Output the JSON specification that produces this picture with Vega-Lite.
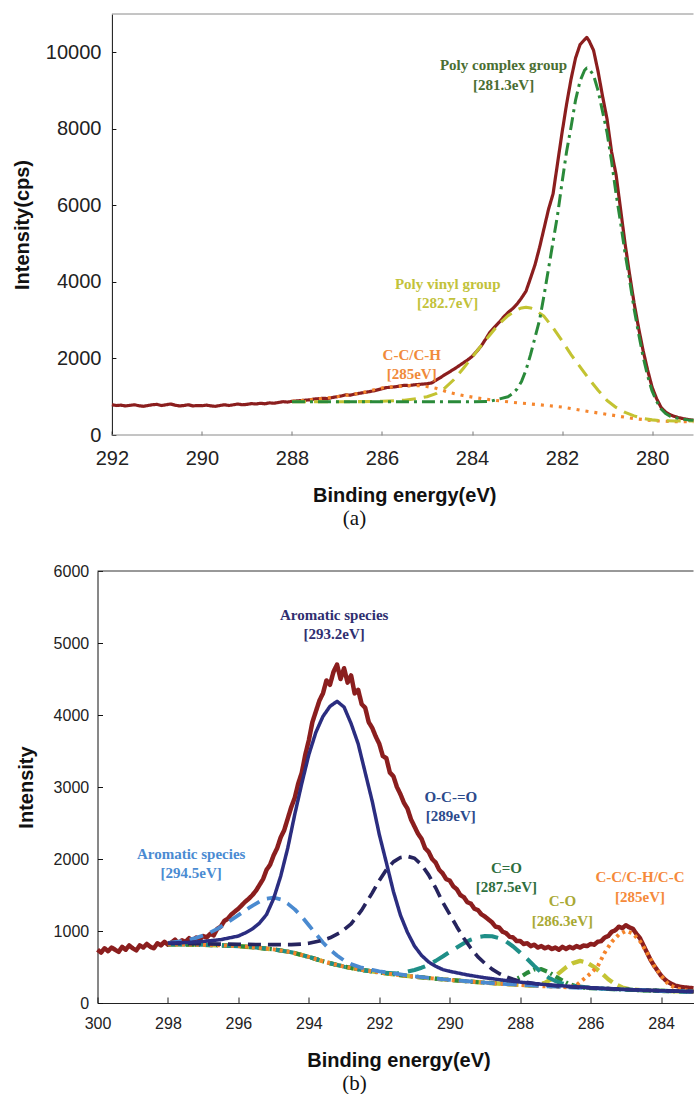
{
"$schema":"https://vega.github.io/schema/vega-lite/v6.json",
"padding":{"left":11.5,"top":13,"right":0,"bottom":0},
"spacing":34,
"resolve":{"scale":{"color":"independent","strokeDash":"independent","strokeWidth":"independent"}},
"config":{"view":{"stroke":null},"font":"Liberation Sans","axis":{"grid":false,"labelFont":"Liberation Sans","titleFont":"Liberation Sans","labelColor":"#222","titleColor":"#111","labelFlush":false,"labelOverlap":false}},
"datasets":{
"aB":[{"x":292,"x2":279.08,"y":0},{"x":292,"x2":279.08,"y":11000}],
"aT":[
{"x":283.3,"y":9658,"t":"Poly complex group","k":"pc"},
{"x":283.3,"y":9156,"t":"[281.3eV]","k":"pc"},
{"x":284.54,"y":3949,"t":"Poly vinyl group","k":"pv"},
{"x":284.54,"y":3455,"t":"[282.7eV]","k":"pv"},
{"x":285.34,"y":2097,"t":"C-C/C-H","k":"ch"},
{"x":285.34,"y":1603,"t":"[285eV]","k":"ch"}],
"aL":[
{"s":"r","x":292.0,"y":790},{"s":"r","x":291.9,"y":770},{"s":"r","x":291.8,"y":780},{"s":"r","x":291.7,"y":760},{"s":"r","x":291.6,"y":775},{"s":"r","x":291.5,"y":790},{"s":"r","x":291.4,"y":765},{"s":"r","x":291.3,"y":750},{"s":"r","x":291.2,"y":770},{"s":"r","x":291.1,"y":790},{"s":"r","x":291.0,"y":800},{"s":"r","x":290.9,"y":770},{"s":"r","x":290.8,"y":790},{"s":"r","x":290.7,"y":810},{"s":"r","x":290.6,"y":780},{"s":"r","x":290.5,"y":760},{"s":"r","x":290.4,"y":770},{"s":"r","x":290.3,"y":790},{"s":"r","x":290.2,"y":760},{"s":"r","x":290.1,"y":770},{"s":"r","x":290.0,"y":765},{"s":"r","x":289.9,"y":780},{"s":"r","x":289.8,"y":760},{"s":"r","x":289.7,"y":750},{"s":"r","x":289.6,"y":770},{"s":"r","x":289.5,"y":790},{"s":"r","x":289.4,"y":770},{"s":"r","x":289.3,"y":790},{"s":"r","x":289.2,"y":810},{"s":"r","x":289.1,"y":790},{"s":"r","x":289.0,"y":800},{"s":"r","x":288.9,"y":820},{"s":"r","x":288.8,"y":810},{"s":"r","x":288.7,"y":830},{"s":"r","x":288.6,"y":815},{"s":"r","x":288.5,"y":840},{"s":"r","x":288.4,"y":830},{"s":"r","x":288.3,"y":850},{"s":"r","x":288.2,"y":870},{"s":"r","x":288.1,"y":860},{"s":"r","x":288.0,"y":880},{"s":"r","x":287.9,"y":890},{"s":"r","x":287.8,"y":900},{"s":"r","x":287.7,"y":910},{"s":"r","x":287.6,"y":920},{"s":"r","x":287.5,"y":940},{"s":"r","x":287.4,"y":950},{"s":"r","x":287.3,"y":960},{"s":"r","x":287.2,"y":950},{"s":"r","x":287.1,"y":980},{"s":"r","x":287.0,"y":1000},{"s":"r","x":286.9,"y":1020},{"s":"r","x":286.8,"y":1050},{"s":"r","x":286.7,"y":1040},{"s":"r","x":286.6,"y":1070},{"s":"r","x":286.5,"y":1090},{"s":"r","x":286.4,"y":1110},{"s":"r","x":286.3,"y":1130},{"s":"r","x":286.2,"y":1150},{"s":"r","x":286.1,"y":1180},{"s":"r","x":286.0,"y":1210},{"s":"r","x":285.9,"y":1240},{"s":"r","x":285.8,"y":1250},{"s":"r","x":285.7,"y":1260},{"s":"r","x":285.6,"y":1280},{"s":"r","x":285.5,"y":1300},{"s":"r","x":285.4,"y":1290},{"s":"r","x":285.3,"y":1310},{"s":"r","x":285.2,"y":1320},{"s":"r","x":285.1,"y":1330},{"s":"r","x":285.0,"y":1340},{"s":"r","x":284.9,"y":1360},{"s":"r","x":284.8,"y":1430},{"s":"r","x":284.7,"y":1500},{"s":"r","x":284.6,"y":1580},{"s":"r","x":284.5,"y":1650},{"s":"r","x":284.4,"y":1720},{"s":"r","x":284.3,"y":1800},{"s":"r","x":284.2,"y":1880},{"s":"r","x":284.1,"y":1960},{"s":"r","x":284.0,"y":2050},{"s":"r","x":283.9,"y":2180},{"s":"r","x":283.8,"y":2320},{"s":"r","x":283.7,"y":2500},{"s":"r","x":283.6,"y":2690},{"s":"r","x":283.5,"y":2820},{"s":"r","x":283.4,"y":2940},{"s":"r","x":283.3,"y":3080},{"s":"r","x":283.2,"y":3200},{"s":"r","x":283.1,"y":3300},{"s":"r","x":283.0,"y":3420},{"s":"r","x":282.9,"y":3580},{"s":"r","x":282.8,"y":3760},{"s":"r","x":282.7,"y":4100},{"s":"r","x":282.6,"y":4450},{"s":"r","x":282.5,"y":4900},{"s":"r","x":282.4,"y":5400},{"s":"r","x":282.3,"y":5900},{"s":"r","x":282.2,"y":6300},{"s":"r","x":282.1,"y":7100},{"s":"r","x":282.0,"y":7900},{"s":"r","x":281.9,"y":8640},{"s":"r","x":281.8,"y":9300},{"s":"r","x":281.7,"y":9850},{"s":"r","x":281.6,"y":10200},{"s":"r","x":281.5,"y":10330},{"s":"r","x":281.45,"y":10390},{"s":"r","x":281.4,"y":10300},{"s":"r","x":281.3,"y":10050},{"s":"r","x":281.2,"y":9500},{"s":"r","x":281.1,"y":8850},{"s":"r","x":281.0,"y":8250},{"s":"r","x":280.9,"y":7400},{"s":"r","x":280.8,"y":6800},{"s":"r","x":280.7,"y":5900},{"s":"r","x":280.6,"y":5000},{"s":"r","x":280.5,"y":4200},{"s":"r","x":280.4,"y":3450},{"s":"r","x":280.3,"y":2800},{"s":"r","x":280.2,"y":2210},{"s":"r","x":280.1,"y":1700},{"s":"r","x":280.0,"y":1250},{"s":"r","x":279.9,"y":950},{"s":"r","x":279.8,"y":720},{"s":"r","x":279.7,"y":600},{"s":"r","x":279.6,"y":530},{"s":"r","x":279.5,"y":485},{"s":"r","x":279.4,"y":450},{"s":"r","x":279.3,"y":425},{"s":"r","x":279.2,"y":405},{"s":"r","x":279.08,"y":385},
{"s":"ch","x":288,"y":880},{"s":"ch","x":287.5,"y":930},{"s":"ch","x":287,"y":1000},{"s":"ch","x":286.5,"y":1090},{"s":"ch","x":286,"y":1230},{"s":"ch","x":285.7,"y":1265},{"s":"ch","x":285.4,"y":1290},{"s":"ch","x":285.1,"y":1290},{"s":"ch","x":284.8,"y":1220},{"s":"ch","x":284.5,"y":1110},{"s":"ch","x":284.2,"y":1030},{"s":"ch","x":283.9,"y":970},{"s":"ch","x":283.6,"y":920},{"s":"ch","x":283.3,"y":880},{"s":"ch","x":283,"y":842},{"s":"ch","x":282.5,"y":790},{"s":"ch","x":282,"y":730},{"s":"ch","x":281.5,"y":630},{"s":"ch","x":281,"y":540},{"s":"ch","x":280.5,"y":445},{"s":"ch","x":280,"y":375},{"s":"ch","x":279.5,"y":350},{"s":"ch","x":279.08,"y":345},
{"s":"pv","x":288,"y":870},{"s":"pv","x":287,"y":870},{"s":"pv","x":286.5,"y":872},{"s":"pv","x":286,"y":880},{"s":"pv","x":285.5,"y":910},{"s":"pv","x":285.2,"y":955},{"s":"pv","x":285,"y":1000},{"s":"pv","x":284.8,"y":1080},{"s":"pv","x":284.6,"y":1230},{"s":"pv","x":284.4,"y":1450},{"s":"pv","x":284.2,"y":1730},{"s":"pv","x":284,"y":2030},{"s":"pv","x":283.8,"y":2330},{"s":"pv","x":283.6,"y":2620},{"s":"pv","x":283.4,"y":2900},{"s":"pv","x":283.2,"y":3120},{"s":"pv","x":283,"y":3270},{"s":"pv","x":282.9,"y":3320},{"s":"pv","x":282.8,"y":3340},{"s":"pv","x":282.7,"y":3320},{"s":"pv","x":282.6,"y":3270},{"s":"pv","x":282.4,"y":3100},{"s":"pv","x":282.2,"y":2800},{"s":"pv","x":282,"y":2460},{"s":"pv","x":281.8,"y":2100},{"s":"pv","x":281.6,"y":1780},{"s":"pv","x":281.4,"y":1460},{"s":"pv","x":281.2,"y":1170},{"s":"pv","x":281,"y":900},{"s":"pv","x":280.8,"y":720},{"s":"pv","x":280.6,"y":590},{"s":"pv","x":280.4,"y":500},{"s":"pv","x":280.2,"y":435},{"s":"pv","x":280,"y":395},{"s":"pv","x":279.8,"y":375},{"s":"pv","x":279.5,"y":368},{"s":"pv","x":279.08,"y":365},
{"s":"pc","x":288,"y":870},{"s":"pc","x":287,"y":870},{"s":"pc","x":286,"y":870},{"s":"pc","x":285,"y":870},{"s":"pc","x":284,"y":870},{"s":"pc","x":283.6,"y":880},{"s":"pc","x":283.4,"y":940},{"s":"pc","x":283.2,"y":1000},{"s":"pc","x":283.1,"y":1080},{"s":"pc","x":283,"y":1200},{"s":"pc","x":282.9,"y":1400},{"s":"pc","x":282.8,"y":1700},{"s":"pc","x":282.7,"y":2100},{"s":"pc","x":282.6,"y":2550},{"s":"pc","x":282.5,"y":3000},{"s":"pc","x":282.4,"y":3650},{"s":"pc","x":282.3,"y":4350},{"s":"pc","x":282.2,"y":5050},{"s":"pc","x":282.1,"y":5750},{"s":"pc","x":282,"y":6600},{"s":"pc","x":281.9,"y":7400},{"s":"pc","x":281.8,"y":8050},{"s":"pc","x":281.7,"y":8750},{"s":"pc","x":281.6,"y":9250},{"s":"pc","x":281.5,"y":9530},{"s":"pc","x":281.45,"y":9590},{"s":"pc","x":281.4,"y":9570},{"s":"pc","x":281.3,"y":9400},{"s":"pc","x":281.2,"y":9000},{"s":"pc","x":281.1,"y":8450},{"s":"pc","x":281,"y":7900},{"s":"pc","x":280.9,"y":7150},{"s":"pc","x":280.8,"y":6300},{"s":"pc","x":280.7,"y":5550},{"s":"pc","x":280.6,"y":4750},{"s":"pc","x":280.5,"y":4050},{"s":"pc","x":280.4,"y":3300},{"s":"pc","x":280.3,"y":2650},{"s":"pc","x":280.2,"y":2050},{"s":"pc","x":280.1,"y":1550},{"s":"pc","x":280,"y":1150},{"s":"pc","x":279.9,"y":880},{"s":"pc","x":279.8,"y":680},{"s":"pc","x":279.7,"y":560},{"s":"pc","x":279.6,"y":490},{"s":"pc","x":279.5,"y":455},{"s":"pc","x":279.4,"y":430},{"s":"pc","x":279.3,"y":410},{"s":"pc","x":279.2,"y":395},{"s":"pc","x":279.08,"y":385}],
"bB":[{"x":300,"x2":283.08,"y":6000}],
"bT":[
{"x":293.28,"y":5389,"t":"Aromatic species","k":"a2"},
{"x":293.28,"y":5125,"t":"[293.2eV]","k":"a2"},
{"x":289.97,"y":2865,"t":"O-C-=O","k":"oco"},
{"x":289.97,"y":2592,"t":"[289eV]","k":"oco"},
{"x":297.34,"y":2069,"t":"Aromatic species","k":"a1"},
{"x":297.34,"y":1806,"t":"[294.5eV]","k":"a1"},
{"x":288.39,"y":1875,"t":"C=O","k":"co"},
{"x":288.39,"y":1606,"t":"[287.5eV]","k":"co"},
{"x":286.8,"y":1411,"t":"C-O","k":"c_o"},
{"x":286.8,"y":1143,"t":"[286.3eV]","k":"c_o"},
{"x":284.6,"y":1744,"t":"C-C/C-H/C-C","k":"cc"},
{"x":284.6,"y":1476,"t":"[285eV]","k":"cc"}],
"bL":[
{"s":"r","x":300.0,"y":740},{"s":"r","x":299.9,"y":700},{"s":"r","x":299.8,"y":760},{"s":"r","x":299.7,"y":720},{"s":"r","x":299.6,"y":770},{"s":"r","x":299.5,"y":740},{"s":"r","x":299.4,"y":710},{"s":"r","x":299.3,"y":780},{"s":"r","x":299.2,"y":740},{"s":"r","x":299.1,"y":800},{"s":"r","x":299.0,"y":760},{"s":"r","x":298.9,"y":730},{"s":"r","x":298.8,"y":800},{"s":"r","x":298.7,"y":770},{"s":"r","x":298.6,"y":820},{"s":"r","x":298.5,"y":780},{"s":"r","x":298.4,"y":760},{"s":"r","x":298.3,"y":830},{"s":"r","x":298.2,"y":800},{"s":"r","x":298.1,"y":850},{"s":"r","x":298.0,"y":810},{"s":"r","x":297.9,"y":840},{"s":"r","x":297.8,"y":880},{"s":"r","x":297.7,"y":830},{"s":"r","x":297.6,"y":870},{"s":"r","x":297.5,"y":850},{"s":"r","x":297.4,"y":900},{"s":"r","x":297.3,"y":860},{"s":"r","x":297.2,"y":910},{"s":"r","x":297.1,"y":880},{"s":"r","x":297.0,"y":930},{"s":"r","x":296.9,"y":910},{"s":"r","x":296.8,"y":960},{"s":"r","x":296.7,"y":940},{"s":"r","x":296.6,"y":1030},{"s":"r","x":296.5,"y":1060},{"s":"r","x":296.4,"y":1140},{"s":"r","x":296.3,"y":1170},{"s":"r","x":296.2,"y":1230},{"s":"r","x":296.1,"y":1270},{"s":"r","x":296.0,"y":1310},{"s":"r","x":295.9,"y":1360},{"s":"r","x":295.8,"y":1410},{"s":"r","x":295.7,"y":1450},{"s":"r","x":295.6,"y":1500},{"s":"r","x":295.5,"y":1560},{"s":"r","x":295.4,"y":1640},{"s":"r","x":295.3,"y":1720},{"s":"r","x":295.2,"y":1850},{"s":"r","x":295.1,"y":1920},{"s":"r","x":295.0,"y":2050},{"s":"r","x":294.9,"y":2150},{"s":"r","x":294.8,"y":2300},{"s":"r","x":294.7,"y":2400},{"s":"r","x":294.6,"y":2560},{"s":"r","x":294.5,"y":2720},{"s":"r","x":294.4,"y":2850},{"s":"r","x":294.3,"y":3050},{"s":"r","x":294.2,"y":3200},{"s":"r","x":294.1,"y":3450},{"s":"r","x":294.0,"y":3650},{"s":"r","x":293.9,"y":3900},{"s":"r","x":293.8,"y":4050},{"s":"r","x":293.7,"y":4200},{"s":"r","x":293.6,"y":4300},{"s":"r","x":293.5,"y":4480},{"s":"r","x":293.4,"y":4420},{"s":"r","x":293.3,"y":4600},{"s":"r","x":293.2,"y":4700},{"s":"r","x":293.1,"y":4500},{"s":"r","x":293.0,"y":4650},{"s":"r","x":292.9,"y":4450},{"s":"r","x":292.8,"y":4550},{"s":"r","x":292.7,"y":4300},{"s":"r","x":292.6,"y":4350},{"s":"r","x":292.5,"y":4150},{"s":"r","x":292.4,"y":4100},{"s":"r","x":292.3,"y":3900},{"s":"r","x":292.2,"y":3820},{"s":"r","x":292.1,"y":3700},{"s":"r","x":292.0,"y":3600},{"s":"r","x":291.9,"y":3430},{"s":"r","x":291.8,"y":3400},{"s":"r","x":291.7,"y":3200},{"s":"r","x":291.6,"y":3150},{"s":"r","x":291.5,"y":3000},{"s":"r","x":291.4,"y":2900},{"s":"r","x":291.3,"y":2780},{"s":"r","x":291.2,"y":2700},{"s":"r","x":291.1,"y":2550},{"s":"r","x":291.0,"y":2450},{"s":"r","x":290.9,"y":2350},{"s":"r","x":290.8,"y":2280},{"s":"r","x":290.7,"y":2150},{"s":"r","x":290.6,"y":2100},{"s":"r","x":290.5,"y":2000},{"s":"r","x":290.4,"y":1950},{"s":"r","x":290.3,"y":1850},{"s":"r","x":290.2,"y":1800},{"s":"r","x":290.1,"y":1720},{"s":"r","x":290.0,"y":1700},{"s":"r","x":289.9,"y":1620},{"s":"r","x":289.8,"y":1580},{"s":"r","x":289.7,"y":1500},{"s":"r","x":289.6,"y":1470},{"s":"r","x":289.5,"y":1400},{"s":"r","x":289.4,"y":1380},{"s":"r","x":289.3,"y":1310},{"s":"r","x":289.2,"y":1290},{"s":"r","x":289.1,"y":1230},{"s":"r","x":289.0,"y":1200},{"s":"r","x":288.9,"y":1160},{"s":"r","x":288.8,"y":1120},{"s":"r","x":288.7,"y":1060},{"s":"r","x":288.6,"y":1050},{"s":"r","x":288.5,"y":990},{"s":"r","x":288.4,"y":970},{"s":"r","x":288.3,"y":920},{"s":"r","x":288.2,"y":910},{"s":"r","x":288.1,"y":860},{"s":"r","x":288.0,"y":860},{"s":"r","x":287.9,"y":820},{"s":"r","x":287.8,"y":830},{"s":"r","x":287.7,"y":790},{"s":"r","x":287.6,"y":810},{"s":"r","x":287.5,"y":770},{"s":"r","x":287.4,"y":790},{"s":"r","x":287.3,"y":760},{"s":"r","x":287.2,"y":780},{"s":"r","x":287.1,"y":750},{"s":"r","x":287.0,"y":770},{"s":"r","x":286.9,"y":740},{"s":"r","x":286.8,"y":780},{"s":"r","x":286.7,"y":750},{"s":"r","x":286.6,"y":780},{"s":"r","x":286.5,"y":760},{"s":"r","x":286.4,"y":790},{"s":"r","x":286.3,"y":770},{"s":"r","x":286.2,"y":800},{"s":"r","x":286.1,"y":790},{"s":"r","x":286.0,"y":820},{"s":"r","x":285.9,"y":810},{"s":"r","x":285.8,"y":850},{"s":"r","x":285.7,"y":860},{"s":"r","x":285.6,"y":910},{"s":"r","x":285.5,"y":930},{"s":"r","x":285.4,"y":990},{"s":"r","x":285.3,"y":1010},{"s":"r","x":285.2,"y":1060},{"s":"r","x":285.1,"y":1040},{"s":"r","x":285.0,"y":1080},{"s":"r","x":284.9,"y":1050},{"s":"r","x":284.8,"y":1030},{"s":"r","x":284.7,"y":960},{"s":"r","x":284.6,"y":900},{"s":"r","x":284.5,"y":800},{"s":"r","x":284.4,"y":700},{"s":"r","x":284.3,"y":600},{"s":"r","x":284.2,"y":520},{"s":"r","x":284.1,"y":450},{"s":"r","x":284.0,"y":380},{"s":"r","x":283.9,"y":330},{"s":"r","x":283.8,"y":290},{"s":"r","x":283.7,"y":265},{"s":"r","x":283.6,"y":240},{"s":"r","x":283.5,"y":230},{"s":"r","x":283.4,"y":220},{"s":"r","x":283.3,"y":215},{"s":"r","x":283.2,"y":210},{"s":"r","x":283.08,"y":205},
{"s":"yel","x":298,"y":815},{"s":"yel","x":297.5,"y":812},{"s":"yel","x":297,"y":808},{"s":"yel","x":296.5,"y":800},{"s":"yel","x":296,"y":790},{"s":"yel","x":295.5,"y":770},{"s":"yel","x":295,"y":745},{"s":"yel","x":294.5,"y":705},{"s":"yel","x":294,"y":640},{"s":"yel","x":293.5,"y":565},{"s":"yel","x":293,"y":505},{"s":"yel","x":292.5,"y":460},{"s":"yel","x":292,"y":425},{"s":"yel","x":291.5,"y":392},{"s":"yel","x":291,"y":365},{"s":"yel","x":290.5,"y":342},{"s":"yel","x":290,"y":320},{"s":"yel","x":289.5,"y":300},{"s":"yel","x":289,"y":282},{"s":"yel","x":288.5,"y":265},{"s":"yel","x":288,"y":250},{"s":"yel","x":287.6,"y":240},{"s":"yel","x":287.3,"y":280},{"s":"yel","x":287.1,"y":335},{"s":"yel","x":286.9,"y":415},{"s":"yel","x":286.7,"y":495},{"s":"yel","x":286.5,"y":555},{"s":"yel","x":286.3,"y":584},{"s":"yel","x":286.1,"y":560},{"s":"yel","x":285.9,"y":500},{"s":"yel","x":285.7,"y":420},{"s":"yel","x":285.5,"y":330},{"s":"yel","x":285.3,"y":260},{"s":"yel","x":285.1,"y":215},{"s":"yel","x":284.9,"y":192},{"s":"yel","x":284.5,"y":176},{"s":"yel","x":284,"y":168},{"s":"yel","x":283.5,"y":162},{"s":"yel","x":283.08,"y":157},
{"s":"grn","x":298,"y":815},{"s":"grn","x":297.5,"y":812},{"s":"grn","x":297,"y":808},{"s":"grn","x":296.5,"y":800},{"s":"grn","x":296,"y":790},{"s":"grn","x":295.5,"y":770},{"s":"grn","x":295,"y":745},{"s":"grn","x":294.5,"y":705},{"s":"grn","x":294,"y":640},{"s":"grn","x":293.5,"y":565},{"s":"grn","x":293,"y":505},{"s":"grn","x":292.5,"y":460},{"s":"grn","x":292,"y":425},{"s":"grn","x":291.5,"y":392},{"s":"grn","x":291,"y":365},{"s":"grn","x":290.5,"y":342},{"s":"grn","x":290,"y":320},{"s":"grn","x":289.5,"y":300},{"s":"grn","x":289,"y":282},{"s":"grn","x":288.5,"y":270},{"s":"grn","x":288.2,"y":310},{"s":"grn","x":288,"y":360},{"s":"grn","x":287.8,"y":420},{"s":"grn","x":287.6,"y":465},{"s":"grn","x":287.4,"y":470},{"s":"grn","x":287.2,"y":430},{"s":"grn","x":287,"y":370},{"s":"grn","x":286.8,"y":310},{"s":"grn","x":286.6,"y":260},{"s":"grn","x":286.4,"y":230},{"s":"grn","x":286.2,"y":212},{"s":"grn","x":286,"y":205},{"s":"grn","x":285.5,"y":195},{"s":"grn","x":285,"y":185},{"s":"grn","x":284.5,"y":176},{"s":"grn","x":284,"y":168},{"s":"grn","x":283.5,"y":162},{"s":"grn","x":283.08,"y":157},
{"s":"teal","x":298,"y":815},{"s":"teal","x":297.5,"y":812},{"s":"teal","x":297,"y":808},{"s":"teal","x":296.5,"y":800},{"s":"teal","x":296,"y":790},{"s":"teal","x":295.5,"y":770},{"s":"teal","x":295,"y":745},{"s":"teal","x":294.5,"y":705},{"s":"teal","x":294,"y":640},{"s":"teal","x":293.5,"y":565},{"s":"teal","x":293,"y":505},{"s":"teal","x":292.5,"y":460},{"s":"teal","x":292,"y":425},{"s":"teal","x":291.5,"y":410},{"s":"teal","x":291.2,"y":435},{"s":"teal","x":291,"y":458},{"s":"teal","x":290.8,"y":490},{"s":"teal","x":290.6,"y":530},{"s":"teal","x":290.4,"y":585},{"s":"teal","x":290.2,"y":645},{"s":"teal","x":290,"y":710},{"s":"teal","x":289.8,"y":770},{"s":"teal","x":289.6,"y":830},{"s":"teal","x":289.4,"y":880},{"s":"teal","x":289.2,"y":915},{"s":"teal","x":289,"y":930},{"s":"teal","x":288.8,"y":928},{"s":"teal","x":288.6,"y":900},{"s":"teal","x":288.4,"y":855},{"s":"teal","x":288.2,"y":785},{"s":"teal","x":288,"y":700},{"s":"teal","x":287.8,"y":610},{"s":"teal","x":287.6,"y":515},{"s":"teal","x":287.4,"y":425},{"s":"teal","x":287.2,"y":355},{"s":"teal","x":287,"y":305},{"s":"teal","x":286.8,"y":270},{"s":"teal","x":286.5,"y":238},{"s":"teal","x":286,"y":210},{"s":"teal","x":285.5,"y":195},{"s":"teal","x":285,"y":185},{"s":"teal","x":284.5,"y":176},{"s":"teal","x":284,"y":168},{"s":"teal","x":283.5,"y":162},{"s":"teal","x":283.08,"y":157},
{"s":"org","x":298,"y":815},{"s":"org","x":297.5,"y":812},{"s":"org","x":297,"y":808},{"s":"org","x":296.5,"y":800},{"s":"org","x":296,"y":790},{"s":"org","x":295.5,"y":770},{"s":"org","x":295,"y":745},{"s":"org","x":294.5,"y":705},{"s":"org","x":294,"y":640},{"s":"org","x":293.5,"y":565},{"s":"org","x":293,"y":505},{"s":"org","x":292.5,"y":460},{"s":"org","x":292,"y":425},{"s":"org","x":291.5,"y":392},{"s":"org","x":291,"y":365},{"s":"org","x":290.5,"y":342},{"s":"org","x":290,"y":320},{"s":"org","x":289.5,"y":300},{"s":"org","x":289,"y":282},{"s":"org","x":288.5,"y":265},{"s":"org","x":288,"y":250},{"s":"org","x":287.5,"y":237},{"s":"org","x":287,"y":225},{"s":"org","x":286.6,"y":218},{"s":"org","x":286.4,"y":250},{"s":"org","x":286.2,"y":330},{"s":"org","x":286,"y":410},{"s":"org","x":285.8,"y":510},{"s":"org","x":285.6,"y":700},{"s":"org","x":285.4,"y":850},{"s":"org","x":285.2,"y":950},{"s":"org","x":285,"y":1000},{"s":"org","x":284.8,"y":965},{"s":"org","x":284.6,"y":860},{"s":"org","x":284.4,"y":700},{"s":"org","x":284.2,"y":520},{"s":"org","x":284,"y":380},{"s":"org","x":283.8,"y":265},{"s":"org","x":283.6,"y":210},{"s":"org","x":283.4,"y":185},{"s":"org","x":283.2,"y":165},{"s":"org","x":283.08,"y":155},
{"s":"lb","x":298,"y":835},{"s":"lb","x":297.5,"y":865},{"s":"lb","x":297.2,"y":905},{"s":"lb","x":296.9,"y":955},{"s":"lb","x":296.6,"y":1030},{"s":"lb","x":296.3,"y":1120},{"s":"lb","x":296,"y":1220},{"s":"lb","x":295.7,"y":1320},{"s":"lb","x":295.4,"y":1410},{"s":"lb","x":295.2,"y":1450},{"s":"lb","x":295,"y":1465},{"s":"lb","x":294.8,"y":1440},{"s":"lb","x":294.6,"y":1380},{"s":"lb","x":294.4,"y":1300},{"s":"lb","x":294.2,"y":1200},{"s":"lb","x":294,"y":1080},{"s":"lb","x":293.8,"y":960},{"s":"lb","x":293.6,"y":840},{"s":"lb","x":293.4,"y":740},{"s":"lb","x":293.2,"y":660},{"s":"lb","x":293,"y":590},{"s":"lb","x":292.8,"y":540},{"s":"lb","x":292.5,"y":490},{"s":"lb","x":292.2,"y":460},{"s":"lb","x":292,"y":440},{"s":"lb","x":291.5,"y":405},{"s":"lb","x":291,"y":370},{"s":"lb","x":290.5,"y":345},{"s":"lb","x":290,"y":322},{"s":"lb","x":289.5,"y":302},{"s":"lb","x":289,"y":283},{"s":"lb","x":288.5,"y":266},{"s":"lb","x":288,"y":251},{"s":"lb","x":287.5,"y":238},{"s":"lb","x":287,"y":226},{"s":"lb","x":286.5,"y":215},{"s":"lb","x":286,"y":206},{"s":"lb","x":285.5,"y":196},{"s":"lb","x":285,"y":186},{"s":"lb","x":284.5,"y":177},{"s":"lb","x":284,"y":169},{"s":"lb","x":283.5,"y":162},{"s":"lb","x":283.08,"y":157},
{"s":"nd","x":298,"y":828},{"s":"nd","x":297,"y":822},{"s":"nd","x":296,"y":815},{"s":"nd","x":295,"y":810},{"s":"nd","x":294.5,"y":810},{"s":"nd","x":294.2,"y":818},{"s":"nd","x":294,"y":830},{"s":"nd","x":293.7,"y":860},{"s":"nd","x":293.4,"y":905},{"s":"nd","x":293.1,"y":980},{"s":"nd","x":292.8,"y":1100},{"s":"nd","x":292.5,"y":1290},{"s":"nd","x":292.2,"y":1530},{"s":"nd","x":292,"y":1700},{"s":"nd","x":291.8,"y":1850},{"s":"nd","x":291.6,"y":1960},{"s":"nd","x":291.4,"y":2020},{"s":"nd","x":291.2,"y":2037},{"s":"nd","x":291,"y":2010},{"s":"nd","x":290.8,"y":1920},{"s":"nd","x":290.6,"y":1780},{"s":"nd","x":290.4,"y":1600},{"s":"nd","x":290.2,"y":1400},{"s":"nd","x":290,"y":1230},{"s":"nd","x":289.8,"y":1060},{"s":"nd","x":289.6,"y":900},{"s":"nd","x":289.4,"y":760},{"s":"nd","x":289.2,"y":640},{"s":"nd","x":289,"y":550},{"s":"nd","x":288.8,"y":470},{"s":"nd","x":288.6,"y":410},{"s":"nd","x":288.4,"y":365},{"s":"nd","x":288.2,"y":330},{"s":"nd","x":288,"y":300},{"s":"nd","x":287.6,"y":270},{"s":"nd","x":287,"y":240},{"s":"nd","x":286.5,"y":222},{"s":"nd","x":286,"y":210},{"s":"nd","x":285.5,"y":199},{"s":"nd","x":285,"y":188},{"s":"nd","x":284.5,"y":179},{"s":"nd","x":284,"y":171},{"s":"nd","x":283.5,"y":164},{"s":"nd","x":283.08,"y":159},
{"s":"ns","x":298,"y":830},{"s":"ns","x":297.5,"y":840},{"s":"ns","x":297,"y":855},{"s":"ns","x":296.5,"y":880},{"s":"ns","x":296,"y":930},{"s":"ns","x":295.8,"y":975},{"s":"ns","x":295.6,"y":1030},{"s":"ns","x":295.4,"y":1110},{"s":"ns","x":295.2,"y":1230},{"s":"ns","x":295,"y":1450},{"s":"ns","x":294.8,"y":1760},{"s":"ns","x":294.6,"y":2150},{"s":"ns","x":294.4,"y":2620},{"s":"ns","x":294.2,"y":3050},{"s":"ns","x":294,"y":3450},{"s":"ns","x":293.8,"y":3760},{"s":"ns","x":293.6,"y":3980},{"s":"ns","x":293.4,"y":4120},{"s":"ns","x":293.2,"y":4190},{"s":"ns","x":293,"y":4110},{"s":"ns","x":292.8,"y":3880},{"s":"ns","x":292.6,"y":3600},{"s":"ns","x":292.4,"y":3200},{"s":"ns","x":292.2,"y":2800},{"s":"ns","x":292,"y":2340},{"s":"ns","x":291.8,"y":1950},{"s":"ns","x":291.6,"y":1550},{"s":"ns","x":291.4,"y":1220},{"s":"ns","x":291.2,"y":980},{"s":"ns","x":291,"y":790},{"s":"ns","x":290.8,"y":660},{"s":"ns","x":290.6,"y":570},{"s":"ns","x":290.4,"y":510},{"s":"ns","x":290.2,"y":465},{"s":"ns","x":290,"y":440},{"s":"ns","x":289.5,"y":390},{"s":"ns","x":289,"y":350},{"s":"ns","x":288.5,"y":318},{"s":"ns","x":288,"y":290},{"s":"ns","x":287.5,"y":265},{"s":"ns","x":287,"y":245},{"s":"ns","x":286.5,"y":228},{"s":"ns","x":286,"y":212},{"s":"ns","x":285.5,"y":200},{"s":"ns","x":285,"y":188},{"s":"ns","x":284.5,"y":178},{"s":"ns","x":284,"y":170},{"s":"ns","x":283.5,"y":163},{"s":"ns","x":283.08,"y":158}]
},
"vconcat":[
{
"width":596,"height":421,
"title":{"text":"(a)","orient":"bottom","anchor":"middle","font":"Liberation Serif","fontSize":21,"fontWeight":"normal","color":"#111","dx":-41,"offset":2},
"encoding":{
"x":{"field":"x","type":"quantitative","scale":{"domain":[292.32,279.08],"nice":false,"zero":false},"axis":{"values":[280,282,284,286,288,290,292],"domain":false,"tickSize":-4,"tickColor":"#777","labelPadding":17.7,"labelFontSize":20,"title":"Binding energy(eV)","titleFontSize":20,"titleFontWeight":"bold","titlePadding":17,"titleX":306.7}},
"y":{"field":"y","type":"quantitative","scale":{"domain":[0,11000],"nice":false},"axis":{"values":[0,2000,4000,6000,8000,10000],"format":"d","offset":-14.4,"domainColor":"#111","tickColor":"#111","tickSize":-4,"labelPadding":15,"labelFontSize":20,"title":"Intensity(cps)","titleFontSize":20,"titleFontWeight":"bold","titlePadding":13}}
},
"layer":[
{"data":{"name":"aB"},"mark":{"type":"rule","color":"#8a8a8a","strokeWidth":1},"encoding":{"x2":{"field":"x2"}}},
{"data":{"name":"aL"},"mark":{"type":"line","strokeCap":"butt","strokeJoin":"round"},"encoding":{
"color":{"field":"s","type":"nominal","scale":{"domain":["r","ch","pv","pc"],"range":["#8B1E1E","#F5862E","#C3C332","#2A8A3A"]},"legend":null},
"strokeDash":{"field":"s","type":"nominal","scale":{"domain":["r","ch","pv","pc"],"range":[[1,0],[3,6],[14,8],[13,5,3,5]]},"legend":null},
"strokeWidth":{"field":"s","type":"ordinal","scale":{"domain":["r","ch","pv","pc"],"range":[3.2,3,3.5,3]},"legend":null}}},
{"data":{"name":"aT"},"mark":{"type":"text","font":"Liberation Serif","fontWeight":"bold","fontSize":15},"encoding":{"text":{"field":"t"},"color":{"field":"k","type":"nominal","scale":{"domain":["pc","pv","ch"],"range":["#4A6E32","#C2C23A","#F08A3A"]},"legend":null}}}
],
"resolve":{"scale":{"color":"independent"}}
},
{
"width":596,"height":432,
"title":{"text":"(b)","orient":"bottom","anchor":"middle","font":"Liberation Serif","fontSize":21,"fontWeight":"normal","color":"#111","dx":-41,"offset":2},
"encoding":{
"x":{"field":"x","type":"quantitative","scale":{"domain":[300,283.08],"nice":false,"zero":false},"axis":{"values":[284,286,288,290,292,294,296,298,300],"domainColor":"#222","tickColor":"#222","tickSize":-6,"labelPadding":18.7,"labelFontSize":16,"title":"Binding energy(eV)","titleFontSize":20,"titleFontWeight":"bold","titlePadding":19,"titleX":301}},
"y":{"field":"y","type":"quantitative","scale":{"domain":[0,6000],"nice":false},"axis":{"values":[0,1000,2000,3000,4000,5000,6000],"format":"d","domainColor":"#111","tickColor":"#111","tickSize":-5,"labelPadding":13.8,"labelFontSize":16,"title":"Intensity","titleFontSize":20,"titleFontWeight":"bold","titlePadding":16.5}}
},
"layer":[
{"data":{"name":"bB"},"mark":{"type":"rule","color":"#333","strokeWidth":1},"encoding":{"x2":{"field":"x2"}}},
{"data":{"name":"bL"},"mark":{"type":"line","strokeCap":"butt","strokeJoin":"round"},"encoding":{
"color":{"field":"s","type":"nominal","scale":{"domain":["r","yel","grn","teal","org","lb","nd","ns"],"range":["#8B1E1E","#C4C435","#2A8A3A","#1F8F88","#F5842A","#4A8AD0","#26245E","#2B2D80"]},"legend":null},
"strokeDash":{"field":"s","type":"nominal","scale":{"domain":["r","yel","grn","teal","org","lb","nd","ns"],"range":[[1,0],[12,6],[8,4,2,4],[18,9],[3,4],[14,8],[13,7],[1,0]]},"legend":null},
"strokeWidth":{"field":"s","type":"ordinal","scale":{"domain":["r","yel","grn","teal","org","lb","nd","ns"],"range":[4.5,3.5,3,4,4,3,2.5,2]},"legend":null}}},
{"data":{"name":"bT"},"mark":{"type":"text","font":"Liberation Serif","fontWeight":"bold","fontSize":15},"encoding":{"text":{"field":"t"},"color":{"field":"k","type":"nominal","scale":{"domain":["a2","oco","a1","co","c_o","cc"],"range":["#2F2F70","#2B4A8C","#4A8BD2","#2E6E3E","#A9A934","#F5893A"]},"legend":null}}}
],
"resolve":{"scale":{"color":"independent"}}
}
]
}
